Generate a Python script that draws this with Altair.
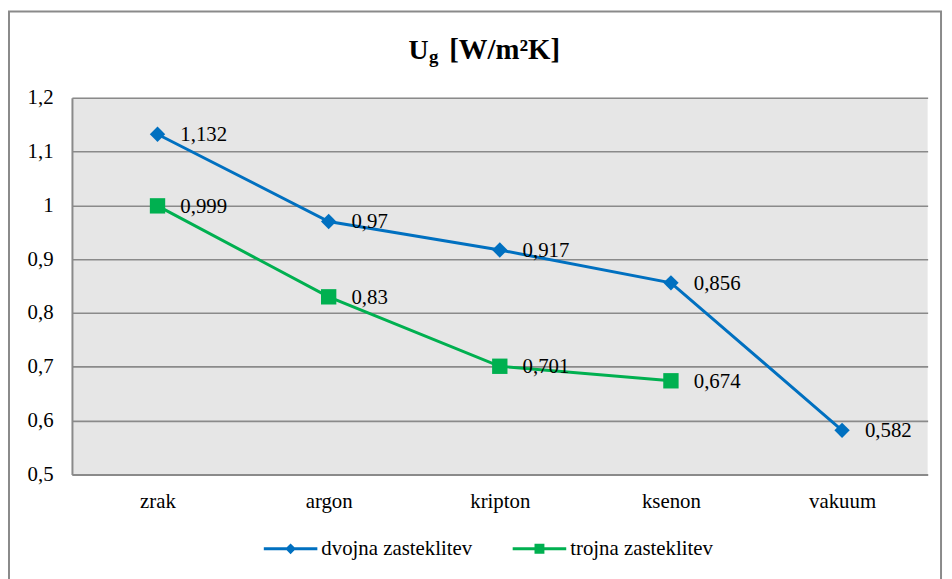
import altair as alt
import pandas as pd

categories = ["zrak", "argon", "kripton", "ksenon", "vakuum"]
series_names = ["dvojna zasteklitev", "trojna zasteklitev"]
dvojna = [1.132, 0.97, 0.917, 0.856, 0.582]
trojna = [0.999, 0.83, 0.701, 0.674]
y_ticks = [0.5, 0.6, 0.7, 0.8, 0.9, 1.0, 1.1, 1.2]
colors = ["#0070C0", "#00B050"]
marker_shapes = ["diamond", "square"]
# legend symbols: line segment + marker (unit path coordinates)
legend_paths = [
    "M-1,-0.056L1,-0.056L1,0.056L-1,0.056Z M0,-0.2L0.2,0L0,0.2L-0.2,0Z",
    "M-1,-0.056L1,-0.056L1,0.056L-1,0.056Z M-0.185,-0.185L0.185,-0.185L0.185,0.185L-0.185,0.185Z",
]

FONT = "Liberation Serif"
FS = 21

rows = []
for name, vals in zip(series_names, [dvojna, trojna]):
    for c, v in zip(categories, vals):
        rows.append({"kat": c, "serija": name, "u": v, "lbl": str(v).replace(".", ",")})
df = pd.DataFrame(rows)

x_enc = alt.X(
    "kat:N",
    sort=categories,
    scale=alt.Scale(type="point", padding=0.5),
    axis=alt.Axis(
        title=None, labelAngle=0, labelFont=FONT, labelFontSize=FS, labelColor="black",
        labelPadding=16, ticks=False, tickSize=0, domainColor="#8a8a8a", domainWidth=2,
        grid=False,
    ),
)
y_enc = alt.Y(
    "u:Q",
    scale=alt.Scale(domain=[0.5, 1.2], nice=False, zero=False),
    axis=alt.Axis(
        title=None, values=y_ticks,
        labelExpr="replace(format(datum.value, '~g'), '.', ',')",
        labelFont=FONT, labelFontSize=FS, labelColor="black", labelPadding=19,
        ticks=False, tickSize=0, domainColor="#8a8a8a", domainWidth=2,
        grid=True, gridColor="#8a8a8a", gridWidth=1.6,
    ),
)
color_nolegend = alt.Color("serija:N", scale=alt.Scale(domain=series_names, range=colors), legend=None)

base = alt.Chart(df)

lines = base.mark_line(strokeWidth=3).encode(x=x_enc, y=y_enc, color=color_nolegend, detail="serija:N")

points = base.mark_point(filled=True, opacity=1, size=240, strokeWidth=0).encode(
    x=x_enc, y=y_enc, color=color_nolegend,
    shape=alt.Shape("serija:N", scale=alt.Scale(domain=series_names, range=marker_shapes), legend=None),
)

leg = alt.Legend(
    title=None, orient="none", legendX=193.5, legendY=428, direction="horizontal", columns=2,
    labelFont=FONT, labelFontSize=FS, labelColor="black", labelOffset=4, columnPadding=40,
    symbolSize=2916, symbolStrokeWidth=0, symbolOpacity=1, padding=0, labelLimit=0,
)
legend_layer = base.mark_point(filled=True, opacity=1, size=2916, strokeWidth=0).encode(
    x=x_enc,
    y=alt.value(-3000),
    color=alt.Color("serija:N", scale=alt.Scale(domain=series_names, range=colors), legend=leg),
    shape=alt.Shape("serija:N", scale=alt.Scale(domain=series_names, range=legend_paths), legend=leg),
)

labels = base.mark_text(align="left", baseline="middle", dx=23, dy=1, font=FONT, fontSize=FS, color="black").encode(
    x=x_enc, y=y_enc, text="lbl:N"
)

one = pd.DataFrame({"a": [0]})
frame = alt.Chart(one).mark_rect(fillOpacity=0, stroke="#8a8a8a", strokeWidth=2).encode(
    x=alt.value(-63.5), x2=alt.value(876.5), y=alt.value(-87), y2=alt.value(600)
)
t1 = alt.Chart(one).mark_text(text="U", align="left", baseline="alphabetic", font=FONT, fontSize=28,
                              fontWeight="bold", color="black").encode(x=alt.value(339.5), y=alt.value(-39))
t2 = alt.Chart(one).mark_text(text="g", align="left", baseline="alphabetic", font=FONT, fontSize=19,
                              fontWeight="bold", color="black").encode(x=alt.value(360), y=alt.value(-35))
t3 = alt.Chart(one).mark_text(text="[W/m²K]", align="left", baseline="alphabetic", font=FONT, fontSize=29,
                              fontWeight="bold", color="black").encode(x=alt.value(380.5), y=alt.value(-39))

chart = (
    alt.layer(frame, lines, points, legend_layer, labels, t1, t2, t3)
    .resolve_scale(color="independent", shape="independent")
    .properties(
        width=863, height=380,
        autosize=alt.AutoSizeParams(type="none"),
        padding={"left": 64.5, "top": 88, "right": 16.5, "bottom": 103},
        background="white",
    )
    .configure(font=FONT)
    .configure_view(fill="#e6e6e6", strokeWidth=0)
)

chart.save("out.html", embed_options={"renderer": "svg", "actions": False})
